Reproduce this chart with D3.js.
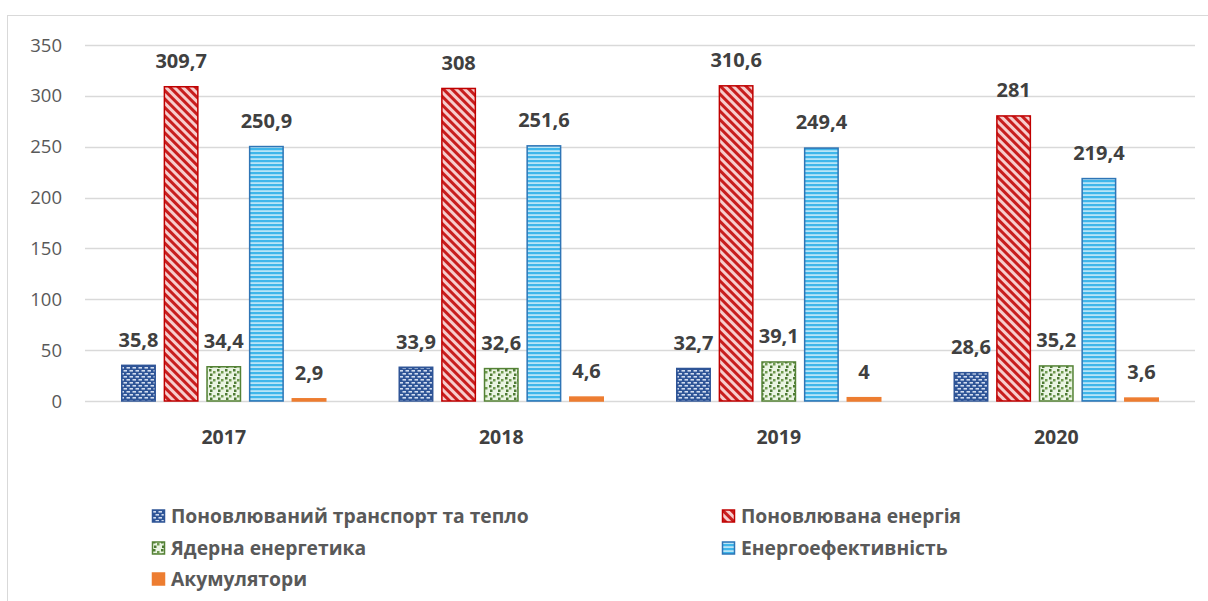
<!DOCTYPE html>
<html>
<head>
<meta charset="utf-8">
<script src="https://cdn.jsdelivr.net/npm/d3@7"></script>
<style>
body { margin:0; background:#fff; }
svg { font-family: "Open Sans", "Liberation Sans", sans-serif; }
</style>
</head>
<body>
<div id="chart"></div>
<script>

// data
var years = ["2017", "2018", "2019", "2020"]
var seriesNames = ["Поновлюваний транспорт та тепло", "Поновлювана енергія", "Ядерна енергетика", "Енергоефективність", "Акумулятори"]
var transport = [35.8, 33.9, 32.7, 28.6]
var renewable = [309.7, 308, 310.6, 281]
var nuclear = [34.4, 32.6, 39.1, 35.2]
var efficiency = [250.9, 251.6, 249.4, 219.4]
var batteries = [2.9, 4.6, 4, 3.6]
var yTicks = [0, 50, 100, 150, 200, 250, 300, 350]

var allSeries = [transport, renewable, nuclear, efficiency, batteries]
var fills = ["url(#pTransport)", "url(#pRenew)", "url(#pNuclear)", "url(#pEff)", "#ED7D31"]
var strokes = ["#2F5597", "#C00000", "#548235", "#2E75B6", "#ED7D31"]

var W = 1208, H = 601
var svg = d3.select("#chart").append("svg").attr("width", W).attr("height", H)

// patterns
var defs = svg.append("defs")

var p1 = defs.append("pattern").attr("id","pTransport").attr("patternUnits","userSpaceOnUse").attr("width",6).attr("height",6)
p1.append("rect").attr("width",6).attr("height",6).attr("fill","#2F5597")
p1.append("rect").attr("x",0.5).attr("y",1).attr("width",3.5).attr("height",1.6).attr("fill","#D2DDF0")
p1.append("rect").attr("x",3.5).attr("y",4).attr("width",3.5).attr("height",1.6).attr("fill","#D2DDF0")
p1.append("rect").attr("x",-2.5).attr("y",4).attr("width",3.5).attr("height",1.6).attr("fill","#D2DDF0")

var p2 = defs.append("pattern").attr("id","pRenew").attr("patternUnits","userSpaceOnUse").attr("width",6).attr("height",6)
	.attr("patternTransform","rotate(45)")
p2.append("rect").attr("width",6).attr("height",6).attr("fill","#F7CDCD")
p2.append("rect").attr("width",6).attr("height",3).attr("fill","#C81E1E")

var p3 = defs.append("pattern").attr("id","pNuclear").attr("patternUnits","userSpaceOnUse").attr("width",8).attr("height",8)
p3.append("rect").attr("width",8).attr("height",8).attr("fill","#EAF4E3")
p3.append("rect").attr("x",1).attr("y",1).attr("width",2.5).attr("height",2.5).attr("fill","#4E7A34")
p3.append("rect").attr("x",5).attr("y",3).attr("width",2.5).attr("height",2.5).attr("fill","#6E9A4E")
p3.append("rect").attr("x",2).attr("y",5.5).attr("width",2.5).attr("height",2.5).attr("fill","#4E7A34")

var p4 = defs.append("pattern").attr("id","pEff").attr("patternUnits","userSpaceOnUse").attr("width",4).attr("height",4)
p4.append("rect").attr("width",4).attr("height",4).attr("fill","#B9E5F7")
p4.append("rect").attr("width",4).attr("height",2.2).attr("fill","#3FB6EA")

// outer border of chart area
svg.append("rect").attr("x",7.5).attr("y",15.5).attr("width",1300).attr("height",700)
	.attr("fill","none").attr("stroke","#D9D9D9").attr("stroke-width",1)

var plotLeft = 85, plotRight = 1195, plotTop = 45, plotBottom = 401

var x0 = d3.scaleBand().domain(years).range([plotLeft, plotRight])
var x1 = d3.scaleBand().domain(d3.range(5)).range([36, x0.bandwidth() - 36]).paddingInner(0.18)
var y = d3.scaleLinear().domain([0, 350]).range([plotBottom, plotTop])

// gridlines
svg.append("g").selectAll("line").data(yTicks).enter().append("line")
	.attr("x1", plotLeft).attr("x2", plotRight)
	.attr("y1", function(d){ return Math.round(y(d)) + 0.5 }).attr("y2", function(d){ return Math.round(y(d)) + 0.5 })
	.attr("stroke","#D9D9D9").attr("stroke-width",1.5)

// y tick labels
svg.append("g").selectAll("text").data(yTicks).enter().append("text")
	.attr("x", 62).attr("y", function(d){ return y(d) + 6.5 })
	.attr("text-anchor","end").attr("font-size",18.5).attr("fill","#595959")
	.text(function(d){ return d })

var fmt = function(v){ return String(v).replace(".", ",") }

// bars
allSeries.forEach(function(vals, s){
	var g = svg.append("g")
	g.selectAll("rect").data(vals).enter().append("rect")
		.attr("x", function(d,i){ return x0(years[i]) + x1(s) + 0.75 })
		.attr("y", function(d){ return y(d) + 0.75 })
		.attr("width", x1.bandwidth() - 1.5)
		.attr("height", function(d){ return Math.max(0, y(0) - y(d) - 0.75) })
		.attr("fill", fills[s]).attr("stroke", strokes[s]).attr("stroke-width", 1.5)

	g.selectAll("text").data(vals).enter().append("text")
		.attr("x", function(d,i){ return x0(years[i]) + x1(s) + x1.bandwidth()/2 })
		.attr("y", function(d){ return y(d) - 18 })
		.attr("text-anchor","middle").attr("font-size",20).attr("font-weight","bold").attr("fill","#404040")
		.text(function(d){ return fmt(d) })
})

// category labels
svg.append("g").selectAll("text").data(years).enter().append("text")
	.attr("x", function(d){ return x0(d) + x0.bandwidth()/2 }).attr("y", 444)
	.attr("text-anchor","middle").attr("font-size",19.5).attr("font-weight","bold").attr("fill","#404040")
	.text(function(d){ return d })

// legend
var legendPos = [[152,516],[722,516],[152,548],[722,548],[152,579]]
seriesNames.forEach(function(name, s){
	var lg = svg.append("g").attr("transform","translate(" + legendPos[s][0] + "," + legendPos[s][1] + ")")
	lg.append("rect").attr("x",0.5).attr("y",-6).attr("width",12).attr("height",12)
		.attr("fill", fills[s]).attr("stroke", strokes[s]).attr("stroke-width",1.5)
	lg.append("text").attr("x",19).attr("y",7)
		.attr("font-size",19.3).attr("font-weight","bold").attr("fill","#595959")
		.text(name)
})

</script>
</body>
</html>
